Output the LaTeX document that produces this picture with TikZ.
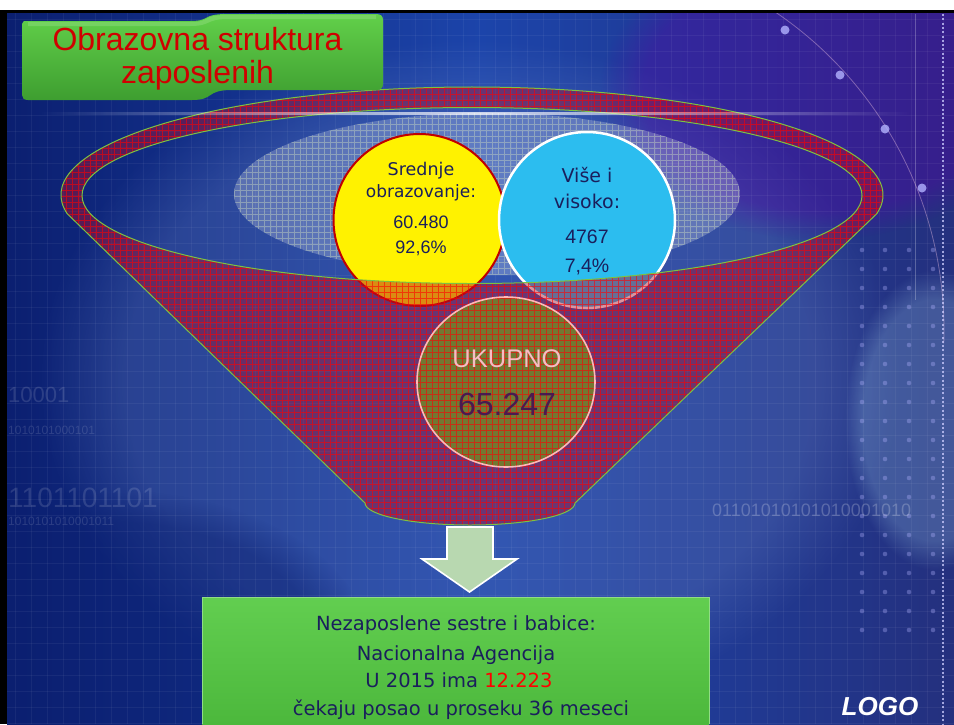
\documentclass[tikz,border=0pt]{standalone}
\usepackage{fontspec}
\setmainfont{Liberation Sans}
\newfontfamily\comicf{DejaVu Sans}
\usetikzlibrary{patterns.meta,fadings,shapes.geometric}
\newcommand\fsz[1]{\fontsize{#1}{#1}\selectfont}
\definecolor{bgmid}{HTML}{1C44AA}
\definecolor{bgdark}{HTML}{0B1F70}
\definecolor{bgright}{HTML}{24307E}
\definecolor{navytext}{HTML}{1A1F5C}
\definecolor{titlered}{HTML}{D00000}
\definecolor{bannertop}{HTML}{62D04A}
\definecolor{bannerbot}{HTML}{3E9E30}
\definecolor{funnelline}{HTML}{7CC242}
\definecolor{funnelfill}{HTML}{B0102A}
\definecolor{skyblue}{HTML}{2CBDEF}
\definecolor{yellowline}{HTML}{C00000}
\definecolor{ukfill}{HTML}{727832}
\definecolor{ukline}{HTML}{FFB8B8}
\definecolor{uktext}{HTML}{F6BCC4}
\definecolor{uknum}{HTML}{4A1A50}
\definecolor{arrowgreen}{HTML}{B8D8B0}
\definecolor{boxtop}{HTML}{62CE50}
\definecolor{boxbot}{HTML}{4CB83C}
\definecolor{gridcol}{HTML}{C8D8C0}
\tikzfading[name=streakfade, left color=transparent!100, right color=transparent!100, middle color=transparent!10]
\begin{document}
\begin{tikzpicture}[x=1pt,y=-1pt,
  txt/.style={anchor=base, inner sep=0pt, text=navytext},
  hatchred/.style={pattern={Hatch[angle=0,distance=6pt,line width=0.4pt]}, pattern color=red},
  bintxt/.style={anchor=base west, inner sep=0pt, text=white, opacity=.13},
  circlebox/.style={circle, inner sep=0pt}]
\useasboundingbox (0,0) rectangle (954,724);
\fill[white] (0,0) rectangle (954,724);
% ---------- background ----------
\begin{scope}
\clip (7,11) rectangle (954,724);
\shade[left color=bgdark, right color=bgright, middle color=bgmid] (7,11) rectangle (954,724);
\fill[bgmid!60!white, opacity=.25, path fading=circle with fuzzy edge 20 percent] (470,380) ellipse [x radius=430, y radius=340];
\fill[violet!70!blue, opacity=.35, path fading=circle with fuzzy edge 20 percent] (820,90) ellipse [x radius=220, y radius=150];
\fill[cyan!30!white, opacity=.22, path fading=circle with fuzzy edge 20 percent] (935,420) ellipse [x radius=90, y radius=150];
\fill[bgdark, opacity=.45, path fading=circle with fuzzy edge 20 percent] (110,650) ellipse [x radius=260, y radius=160];
% faint grid
\foreach \gx in {15,31,...,954} {\draw[white, opacity=.05, line width=.6pt] (\gx,11) -- (\gx,724);}
\foreach \gy in {19,35,...,724} {\draw[white, opacity=.05, line width=.6pt] (7,\gy) -- (954,\gy);}
% arc with dots at top right
\draw[white!70!violet, opacity=.45, line width=.8pt] (560,330) ++(-58:384) arc[start angle=-58, end angle=2, radius=384];
\foreach \p in {(785,30),(840,75),(885,129),(922,188)} {\fill[blue!30!white, opacity=.8] \p circle (4.5);}
\draw[white, opacity=.25, line width=.8pt] (915,14) -- (915,300);
\draw[white!80!blue, opacity=.75, line width=2.2pt, dash pattern=on 2pt off 2.3pt] (943,14) -- (943,724);
% dot grid on the right
\foreach \dx in {862,885,909,933} {\foreach \dy in {250,269,...,640} {\fill[white!70!blue, opacity=.35] (\dx,\dy) circle (2.3);}}
% binary digits (background art)
\node[bintxt, font=\fsz{22}] (b1) at (8,402) {10001};
\node[bintxt, font=\fsz{12}] (b2) at (8,434) {1010101000101};
\node[bintxt, font=\fsz{28}] (b3) at (8,507) {1101101101};
\node[bintxt, font=\fsz{12}] (b4) at (8,525) {1010101010001011};
\node[bintxt, font=\fsz{18}, opacity=.22] (b5) at (712,516) {01101010101010001010};
\end{scope}
\fill[black] (0,10) rectangle (7,724);
\fill[black] (0,10) rectangle (954,12.5);
% ---------- grey hatched ellipse ----------
\fill[white, opacity=.22] (487,194) ellipse [x radius=253, y radius=81];
\fill[pattern={Hatch[angle=0,distance=6pt,line width=0.5pt]}, pattern color=gridcol, opacity=.45] (487,194) ellipse [x radius=253, y radius=81];
% ---------- the two circles ----------
\node[circlebox, fill=yellow, draw=yellowline, line width=2pt, minimum size=172pt] (sred) at (419.5,220) {};
\node[circlebox, fill=skyblue, draw=white, line width=2.5pt, minimum size=176pt] (vis) at (587,220) {};
\node[txt, font=\comicf\fsz{17.5}] (s1) at (421,175) {Srednje};
\node[txt, font=\comicf\fsz{17}] (s2) at (421,197) {obrazovanje:};
\node[txt, font=\fsz{18}] (s3) at (421,228) {60.480};
\node[txt, font=\fsz{18}] (s4) at (421,253) {92,6\%};
\node[txt, font=\comicf\fsz{19}] (v1) at (587,182) {Više i};
\node[txt, font=\comicf\fsz{19}] (v2) at (587,208) {visoko:};
\node[txt, font=\fsz{19.5}] (v3) at (587,243) {4767};
\node[txt, font=\fsz{19.5}] (v4) at (587,272) {7,4\%};
% ---------- funnel ----------
\fill[funnelfill, fill opacity=.45, even odd rule]
  (67.24,213.75) arc[start angle=170, end angle=370, x radius=411, y radius=108]
  -- (575,503) arc[start angle=0, end angle=180, x radius=105, y radius=22] -- cycle
  (472,195.5) ellipse [x radius=390, y radius=88];
\fill[hatchred, opacity=.6, even odd rule]
  (67.24,213.75) arc[start angle=170, end angle=370, x radius=411, y radius=108]
  -- (575,503) arc[start angle=0, end angle=180, x radius=105, y radius=22] -- cycle
  (472,195.5) ellipse [x radius=390, y radius=88];
\draw[funnelline, line width=1pt]
  (67.24,213.75) arc[start angle=170, end angle=370, x radius=411, y radius=108]
  -- (575,503) arc[start angle=0, end angle=180, x radius=105, y radius=22] -- cycle;
\draw[funnelline, line width=1pt] (472,195.5) ellipse [x radius=390, y radius=88];
% ---------- UKUPNO ----------
\node[ellipse, inner sep=0pt, minimum width=178pt, minimum height=170pt, fill=ukfill] (uk) at (506,382) {};
\fill[hatchred, opacity=.6] (506,382) ellipse [x radius=89, y radius=85];
\draw[ukline, line width=1.6pt] (506,382) ellipse [x radius=89, y radius=85];
\node[anchor=base, inner sep=0pt, text=uktext, font=\fsz{25.5}] (uk1) at (507,367) {UKUPNO};
\node[anchor=base, inner sep=0pt, text=uknum, font=\fsz{32}] (uk2) at (507,415) {65.247};
% ---------- white streak ----------
\fill[white, path fading=streakfade, opacity=.85] (40,111.5) rectangle (910,115);
% ---------- arrow ----------
\draw[white, line width=1.6pt, fill=arrowgreen] (447,527) -- (493,527) -- (493,559) -- (517,559) -- (469.5,592) -- (422,559) -- (447,559) -- cycle;
% ---------- bottom box ----------
\shade[top color=boxtop, bottom color=boxbot] (202,597) rectangle (709,724);
\draw[boxtop!70!white, line width=1pt] (202,724) -- (202,597) -- (709,597) -- (709,724);
\node[txt, font=\comicf\fsz{19.5}] (n1) at (456,630) {Nezaposlene sestre i babice:};
\node[txt, font=\comicf\fsz{19.5}] (n2) at (456,660) {Nacionalna Agencija};
\node[txt, font=\comicf\fsz{19.5}] (n3) at (459,687) {U 2015 ima \textcolor{red}{12.223}};
\node[txt, font=\comicf\fsz{19.5}] (n4) at (461,715) {čekaju posao u proseku 36 meseci};
% ---------- title banner ----------
\shade[top color=bannertop, bottom color=bannerbot]
  (22,24) .. controls (22,21) and (24,21) .. (28,21) -- (190,21)
  .. controls (212,21) and (200,14) .. (228,14) -- (376,14)
  .. controls (381,14) and (383,16) .. (383,20) -- (383,84)
  .. controls (383,88) and (381,90) .. (376,90) -- (232,90)
  .. controls (205,90) and (215,100) .. (192,100) -- (28,100)
  .. controls (24,100) and (22,98) .. (22,95) -- cycle;
\fill[bannertop!60!white, opacity=.35] (28,22) -- (190,22) .. controls (212,22) and (200,15) .. (228,15) -- (376,15) -- (376,19) -- (228,19) .. controls (205,19) and (212,26) .. (190,26) -- (28,26) -- cycle;
\node[anchor=base, inner sep=0pt, text=titlered, font=\fsz{32}] (t1) at (197.5,50) {Obrazovna struktura};
\node[anchor=base, inner sep=0pt, text=titlered, font=\fsz{32}] (t2) at (197.5,83) {zaposlenih};
% ---------- LOGO ----------
\node[anchor=base, inner sep=0pt, text=white, font=\bfseries\itshape\fsz{26}] (logo) at (880,715) {LOGO};
\end{tikzpicture}
\end{document}
